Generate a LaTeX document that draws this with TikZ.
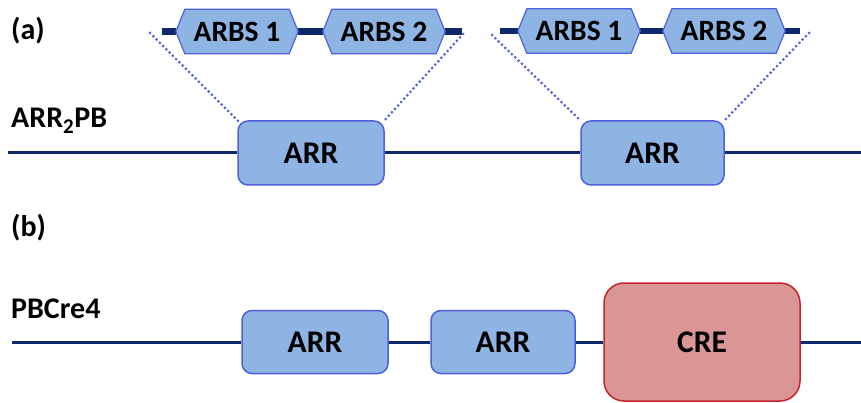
\documentclass[tikz,border=0pt]{standalone}
\usepackage{fontspec}
\setmainfont{Carlito}
\usetikzlibrary{backgrounds}
\definecolor{navy}{RGB}{15,40,105}
\definecolor{arrfill}{RGB}{142,180,227}
\definecolor{arredge}{RGB}{80,95,222}
\definecolor{crefill}{RGB}{217,150,148}
\definecolor{creedge}{RGB}{196,36,44}
\pgfdeclarelayer{bgzero}
\pgfdeclarelayer{bgone}
\pgfsetlayers{bgzero,bgone,main}
\tikzset{
  lbl/.style={inner sep=0pt, font=\fontsize{30}{34}\selectfont\bfseries},
  arrbox/.style={draw=arredge, fill=arrfill, line width=1.5pt, rounded corners=10pt,
    inner sep=0pt, font=\fontsize{31.5}{34}\selectfont\bfseries},
  crebox/.style={draw=creedge, fill=crefill, line width=1.5pt, rounded corners=20pt,
    inner sep=0pt, minimum width=196pt, minimum height=118pt, font=\fontsize{31.5}{34}\selectfont\bfseries},
  arbs/.style={inner sep=0pt, minimum width=104pt, minimum height=44pt,
    font=\fontsize{29.5}{34}\selectfont\bfseries},
  hexedge/.style={draw=arredge, fill=arrfill, line width=1.2pt, line join=miter},
  dna/.style={draw=navy, line width=3pt},
  backbone/.style={draw=navy, line width=6.5pt},
  zoomline/.style={draw=arredge, line width=3pt, line cap=round, dash pattern=on 0pt off 4.6pt}
}
\newcommand{\hexof}[1]{%
  \begin{pgfonlayer}{bgone}
  \path[hexedge] (#1.north west) -- (#1.north east) -- ([xshift=9pt]#1.east) --
    (#1.south east) -- (#1.south west) -- ([xshift=-9pt]#1.west) -- cycle;
  \end{pgfonlayer}}
\begin{document}
\begin{tikzpicture}[x=1pt,y=-1pt]
\useasboundingbox (0,0) rectangle (861,403);
% ---------- (a)
\node[lbl, anchor=west] (la) at (11,31) {(a)};
\node[lbl, anchor=base west] (lArr) at (11,128) {ARR\textsubscript{2}PB};
\coordinate (aL) at (8,153);
\coordinate (aR) at (861,153);
\node[arrbox, minimum width=146pt, minimum height=64pt] (arr1) at (311,153) {ARR};
\node[arrbox, minimum width=143pt, minimum height=64pt] (arr2) at (652.5,153) {ARR};
\begin{pgfonlayer}{bgzero}
\draw[dna] (aL) -- (arr1);
\draw[dna] (arr1) -- (arr2);
\draw[dna] (arr2) -- (aR);
\end{pgfonlayer}
% ARBS groups
\node[arbs] (s11) at (237,31.5) {ARBS 1};
\node[arbs] (s12) at (384,31.5) {ARBS 2};
\node[arbs] (s21) at (579,31) {ARBS 1};
\node[arbs] (s22) at (724,31) {ARBS 2};
\hexof{s11}\hexof{s12}\hexof{s21}\hexof{s22}
\coordinate (b1L) at (162,31.5);
\coordinate (b1R) at (462,31.5);
\coordinate (b2L) at (500,31);
\coordinate (b2R) at (800,31);
\begin{pgfonlayer}{bgzero}
\draw[backbone] (b1L) -- ([xshift=-9pt]s11.west);
\draw[backbone] ([xshift=9pt]s11.east) -- ([xshift=-9pt]s12.west);
\draw[backbone] ([xshift=9pt]s12.east) -- (b1R);
\draw[backbone] (b2L) -- ([xshift=-9pt]s21.west);
\draw[backbone] ([xshift=9pt]s21.east) -- ([xshift=-9pt]s22.west);
\draw[backbone] ([xshift=9pt]s22.east) -- (b2R);
\end{pgfonlayer}
\coordinate (z1L) at (150,33);
\coordinate (z1R) at (463,34);
\coordinate (z2L) at (492,35);
\coordinate (z2R) at (809,33);
\draw[zoomline] (z1L) -- ([xshift=1pt,yshift=-1pt]arr1.north west);
\draw[zoomline] (z1R) -- ([xshift=-1pt,yshift=-1pt]arr1.north east);
\draw[zoomline] (z2L) -- ([xshift=1pt,yshift=-1pt]arr2.north west);
\draw[zoomline] (z2R) -- ([xshift=-1pt,yshift=-1pt]arr2.north east);
% ---------- (b)
\node[lbl, anchor=west] (lb) at (11,228) {(b)};
\node[lbl, anchor=base west] (lPB) at (11,318) {PBCre4};
\coordinate (cL) at (12,342);
\coordinate (cR) at (861,342);
\node[arrbox, minimum width=146pt, minimum height=63pt] (barr1) at (315,342) {ARR};
\node[arrbox, minimum width=144pt, minimum height=63pt] (barr2) at (503,342) {ARR};
\node[crebox] (cre) at (702,342) {CRE};
\begin{pgfonlayer}{bgzero}
\draw[dna] (cL) -- (barr1);
\draw[dna] (barr1) -- (barr2);
\draw[dna] (barr2) -- (cre);
\draw[dna] (cre) -- (cR);
\end{pgfonlayer}
\end{tikzpicture}
\end{document}
